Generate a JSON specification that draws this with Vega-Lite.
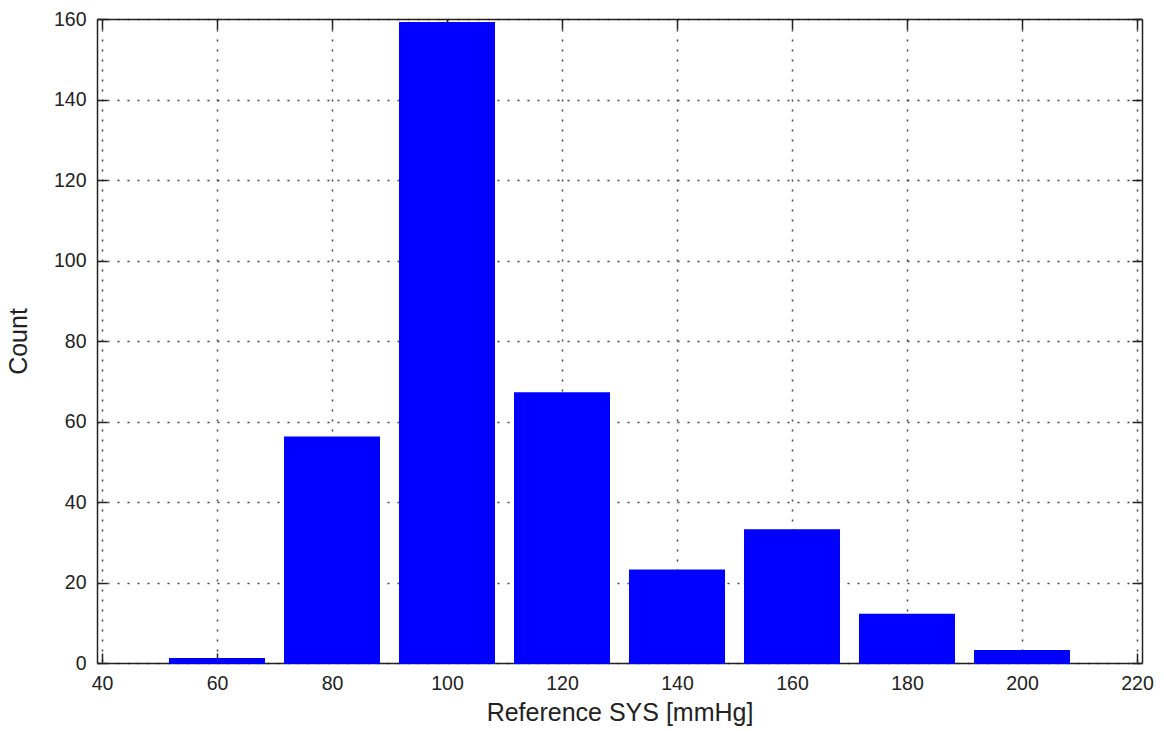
{
  "$schema": "https://vega.github.io/schema/vega-lite/v6.json",
  "width": 1045,
  "height": 644,
  "autosize": {"type": "none"},
  "padding": {"left": 97, "top": 19, "right": 22, "bottom": 68},
  "background": "white",
  "config": {
    "view": {"stroke": null},
    "font": "Liberation Sans",
    "axis": {
      "domainColor": "#222222",
      "domainWidth": 1.5,
      "tickColor": "#222222",
      "tickWidth": 1.5,
      "tickSize": -10,
      "gridColor": "#444444",
      "gridDash": [2, 8],
      "gridWidth": 1.5,
      "labelFont": "Liberation Sans",
      "labelFontSize": 19.5,
      "labelColor": "#222222",
      "titleFont": "Liberation Sans",
      "titleFontSize": 25,
      "titleFontWeight": "normal",
      "titleColor": "#222222"
    }
  },
  "data": {
    "values": [
      {"sys": 60, "count": 1},
      {"sys": 80, "count": 56},
      {"sys": 100, "count": 159},
      {"sys": 120, "count": 67},
      {"sys": 140, "count": 23},
      {"sys": 160, "count": 33},
      {"sys": 180, "count": 12},
      {"sys": 200, "count": 3}
    ]
  },
  "layer": [
    {
      "mark": {"type": "bar", "color": "#0000ff", "stroke": "#0000ff", "strokeWidth": 2, "width": 94},
      "encoding": {
        "x": {
          "field": "sys", "type": "quantitative",
          "scale": {"domain": [40, 220], "nice": false, "zero": false},
          "axis": {"orient": "bottom", "values": [40, 60, 80, 100, 120, 140, 160, 180, 200, 220], "grid": true, "labelPadding": 21, "labelFlush": false, "title": "Reference SYS [mmHg]", "titlePadding": 8}
        },
        "y": {
          "field": "count", "type": "quantitative",
          "scale": {"domain": [0, 160], "nice": false},
          "axis": {"orient": "left", "values": [0, 20, 40, 60, 80, 100, 120, 140, 160], "grid": true, "labelPadding": 21, "labelFlush": false, "title": "Count", "titlePadding": 22}
        }
      }
    },
    {
      "mark": {"type": "bar", "opacity": 0, "width": 94},
      "encoding": {
        "x": {
          "field": "sys", "type": "quantitative",
          "scale": {"domain": [40, 220], "nice": false, "zero": false},
          "axis": {"orient": "top", "values": [40, 60, 80, 100, 120, 140, 160, 180, 200, 220], "grid": false, "labels": false, "title": null}
        },
        "y": {
          "field": "count", "type": "quantitative",
          "scale": {"domain": [0, 160], "nice": false},
          "axis": {"orient": "right", "values": [0, 20, 40, 60, 80, 100, 120, 140, 160], "grid": false, "labels": false, "title": null}
        }
      }
    }
  ],
  "resolve": {"axis": {"x": "independent", "y": "independent"}}
}
